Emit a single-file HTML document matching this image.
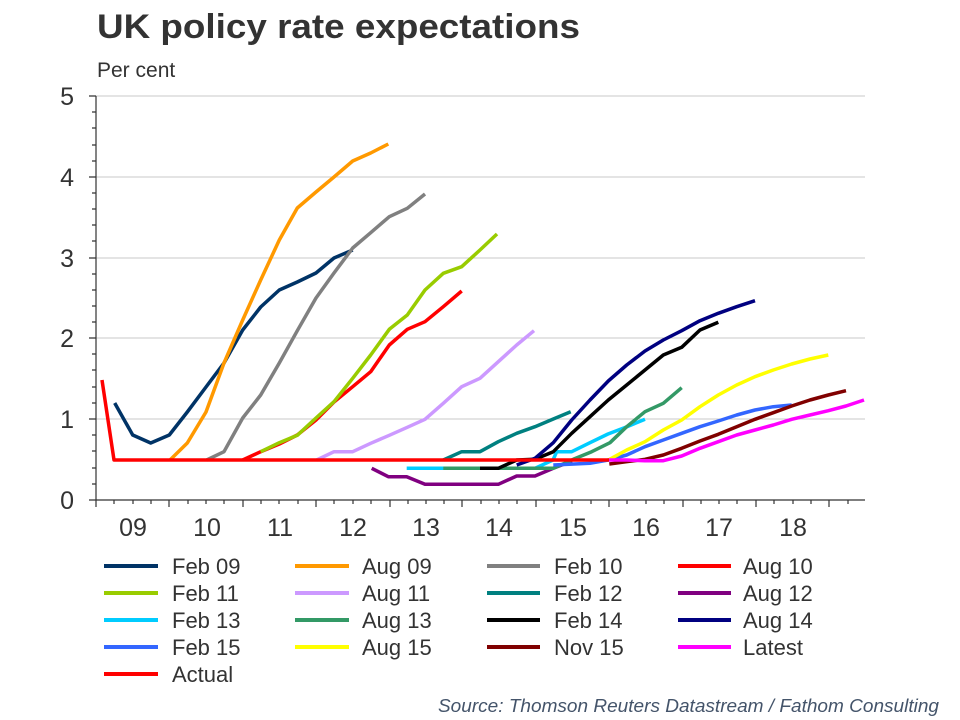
<!DOCTYPE html>
<html><head><meta charset="utf-8"><style>
body{margin:0;background:#fff;}
svg{display:block;font-family:"Liberation Sans",Arial,sans-serif;}
</style></head><body>
<svg width="960" height="720" viewBox="0 0 960 720" xmlns="http://www.w3.org/2000/svg">
<rect width="960" height="720" fill="#fff"/>
<text x="97" y="38" font-size="34" font-weight="bold" fill="#333" textLength="483" lengthAdjust="spacingAndGlyphs">UK policy rate expectations</text>
<text x="97" y="77" font-size="21" fill="#333">Per cent</text>
<g stroke="#c8c8c8" stroke-width="1">
<line x1="96" y1="96" x2="865" y2="96"/><line x1="96" y1="177" x2="865" y2="177"/>
<line x1="96" y1="258" x2="865" y2="258"/><line x1="96" y1="338" x2="865" y2="338"/>
<line x1="96" y1="419" x2="865" y2="419"/>
</g>
<g stroke="#333" stroke-width="1.2" fill="none">
<line x1="96" y1="96" x2="96" y2="500"/>
<line x1="96" y1="500" x2="865" y2="500"/>
<path d="M89 96H96M89 177H96M89 258H96M89 338H96M89 419H96M89 500H96
M92 112H96M92 128H96M92 145H96M92 161H96M92 193H96M92 209H96M92 225H96M92 241H96M92 274H96M92 290H96M92 306H96M92 322H96M92 354H96M92 370H96M92 387H96M92 403H96M92 435H96M92 451H96M92 468H96M92 484H96"/>
<path d="M96 500V507M169 500V507M243 500V507M316 500V507M390 500V507M462 500V507M536 500V507M609 500V507M683 500V507M756 500V507M829 500V507
M114 500V504M133 500V504M151 500V504M188 500V504M206 500V504M224 500V504M261 500V504M279 500V504M298 500V504M334 500V504M353 500V504M371 500V504M408 500V504M426 500V504M444 500V504M481 500V504M499 500V504M517 500V504M554 500V504M572 500V504M591 500V504M627 500V504M646 500V504M664 500V504M701 500V504M719 500V504M737 500V504M774 500V504M793 500V504M811 500V504M848 500V504"/>
</g>
<g font-size="25" fill="#333" text-anchor="end">
<text x="74" y="105">5</text><text x="74" y="186">4</text><text x="74" y="267">3</text>
<text x="74" y="347">2</text><text x="74" y="428">1</text><text x="74" y="509">0</text>
</g>
<g font-size="25" fill="#333" text-anchor="middle">
<text x="133" y="536">09</text><text x="207" y="536">10</text><text x="280" y="536">11</text>
<text x="353" y="536">12</text><text x="426" y="536">13</text><text x="499" y="536">14</text>
<text x="573" y="536">15</text><text x="646" y="536">16</text><text x="719" y="536">17</text>
<text x="793" y="536">18</text>
</g>
<g fill="none" stroke-width="3.5" stroke-linejoin="round" stroke-linecap="butt">
<polyline stroke="#003366" points="114.7,403 132.7,435 150.7,443 169.3,435 187.3,412 206,387 224,363 242.7,330 260.7,307 279.3,290 297.3,282 316,273 334,258 352.7,250"/>
<polyline stroke="#ff9900" points="170,460 187.3,443 206,412 224,363 242.7,320 260.7,280 279.3,240 297.3,208 316,192 334,177 352.7,161 370.7,153 388.3,144"/>
<polyline stroke="#808080" points="206.7,460 224,451.7 242.7,418 260.7,395 279.3,363 297.3,330.7 316,298 334,273 352.7,248 370.7,232.7 389.3,216.7 407.3,208.3 425,194"/>
<polyline stroke="#ff0000" points="242.7,460 260.7,451.7 279.3,444 297.3,435 316,420 334,402 352.7,386.7 370.7,371.7 389.3,345 407.3,329.3 425,321.7 443.3,306.7 461.7,291"/>
<polyline stroke="#99cc00" points="260.7,451.7 279.3,442.7 297.3,435.3 316,418 334,401.7 352.7,378.3 370.7,355 389.3,329.3 407.3,315 425,290 443.3,273.3 461.7,266.7 480,250 497,234"/>
<polyline stroke="#cc99ff" points="316.7,460 334,451.7 352.7,451.7 370.7,443.3 389.3,435.3 407.3,427.3 425,419.3 443.3,403.3 461.7,386.7 480,378.3 498.3,361.7 516.7,345 534,330.7"/>
<polyline stroke="#008080" points="443.3,460 461.7,451.7 480,451.7 498.3,441.7 516.7,433.3 535,426.7 553.3,419 570.7,411.7"/>
<polyline stroke="#800080" points="371.7,468.3 388.3,476.7 406.7,476.7 425,484.3 498.3,484.3 516.7,476 535,476 553.3,468.3 572,461"/>
<polyline stroke="#00ccff" points="406.7,468.3 535,468.3 553,460 556.7,451.7 571.7,451.7 590,442.7 608,434 627,426.7 645,419.3"/>
<polyline stroke="#339966" points="443.3,468.3 553.3,468.3 573.3,459.3 591.7,451.7 610,442.7 626.7,426.7 645,411.7 663.3,403.3 681.7,387.7"/>
<polyline stroke="#000000" points="480,468.3 498.3,468.3 516.7,460 535,459.3 553.3,451.7 571.7,433.3 590,416.7 608.3,400 626.7,385 645,370 663.3,355 681.7,347.3 700,330 718.3,322.3"/>
<polyline stroke="#000080" points="516.7,465 535,458.3 553.3,442.7 571.7,420 590,400 608.3,381 626.7,365 645,351 663.3,340 681.7,330.7 700,320.7 718.3,313.3 736.7,306.7 755,300.7"/>
<polyline stroke="#3366ff" points="553.3,465 590,463.3 608.3,460 626.7,455 645,446.7 663.3,440 681.7,433.3 700,426.7 718.3,421 736.7,415 755,410 773.3,406.7 791.7,405"/>
<polyline stroke="#ffff00" points="608.3,460 626.7,450 645,441.7 663.3,430 681.7,420 700,406.7 718.3,395 736.7,385 755,376.7 773.3,370 791.7,364 810,359 828.3,355"/>
<polyline stroke="#800000" points="609.3,464 626.7,461.7 645,459.3 663.3,455 681.7,448.3 700,441 718.3,434.3 736.7,426.7 755,419.3 773.3,412.7 791.7,406 810,400 828.3,395 846,390.7"/>
<polyline stroke="#ff0000" points="102,380 114,460 609,460"/>
<polyline stroke="#ff00ff" points="609,460 626.7,460 645,460.7 663.3,460.7 681.7,456 700,448.3 718.3,441.7 736.7,435 755,430 773.3,425 791.7,419.3 810,415 828.3,410.7 846,406 864,400"/>
</g>
<g stroke-width="4">
<line x1="104" y1="566" x2="158" y2="566" stroke="#003366"/>
<line x1="295" y1="566" x2="349" y2="566" stroke="#ff9900"/>
<line x1="487" y1="566" x2="540" y2="566" stroke="#808080"/>
<line x1="678" y1="566" x2="731" y2="566" stroke="#ff0000"/>
<line x1="104" y1="593" x2="158" y2="593" stroke="#99cc00"/>
<line x1="295" y1="593" x2="349" y2="593" stroke="#cc99ff"/>
<line x1="487" y1="593" x2="540" y2="593" stroke="#008080"/>
<line x1="678" y1="593" x2="731" y2="593" stroke="#800080"/>
<line x1="104" y1="620" x2="158" y2="620" stroke="#00ccff"/>
<line x1="295" y1="620" x2="349" y2="620" stroke="#339966"/>
<line x1="487" y1="620" x2="540" y2="620" stroke="#000000"/>
<line x1="678" y1="620" x2="731" y2="620" stroke="#000080"/>
<line x1="104" y1="647" x2="158" y2="647" stroke="#3366ff"/>
<line x1="295" y1="647" x2="349" y2="647" stroke="#ffff00"/>
<line x1="487" y1="647" x2="540" y2="647" stroke="#800000"/>
<line x1="678" y1="647" x2="731" y2="647" stroke="#ff00ff"/>
<line x1="104" y1="674" x2="158" y2="674" stroke="#ff0000"/>
</g>
<g font-size="22" fill="#333">
<text x="172" y="574">Feb 09</text><text x="362" y="574">Aug 09</text><text x="554" y="574">Feb 10</text><text x="743" y="574">Aug 10</text>
<text x="172" y="601">Feb 11</text><text x="362" y="601">Aug 11</text><text x="554" y="601">Feb 12</text><text x="743" y="601">Aug 12</text>
<text x="172" y="628">Feb 13</text><text x="362" y="628">Aug 13</text><text x="554" y="628">Feb 14</text><text x="743" y="628">Aug 14</text>
<text x="172" y="655">Feb 15</text><text x="362" y="655">Aug 15</text><text x="554" y="655">Nov 15</text><text x="743" y="655">Latest</text>
<text x="172" y="682">Actual</text>
</g>
<text x="939" y="712" font-size="18" font-style="italic" fill="#44546a" text-anchor="end" textLength="501" lengthAdjust="spacingAndGlyphs">Source: Thomson Reuters Datastream / Fathom Consulting</text>
</svg>
</body></html>
